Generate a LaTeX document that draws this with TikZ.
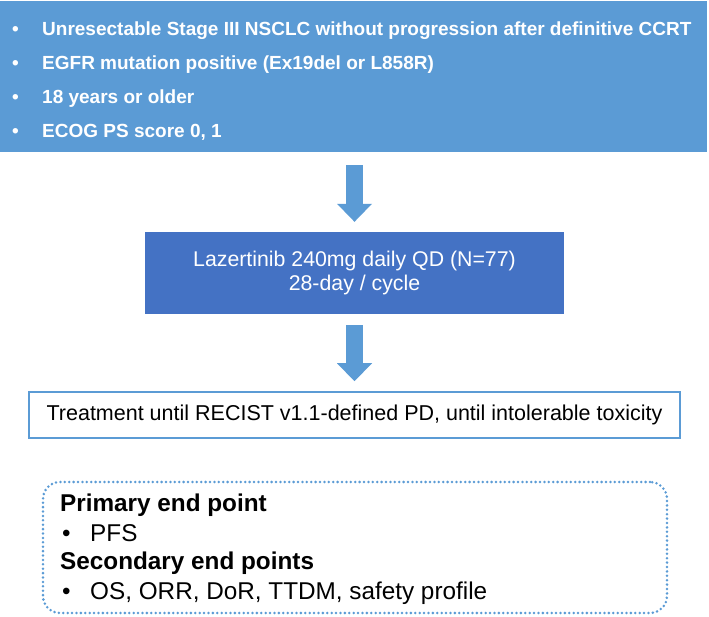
\documentclass[tikz,border=0pt]{standalone}
\usepackage{fontspec}
\setmainfont{Liberation Sans}
\usepackage{tikz}
\usetikzlibrary{calc,positioning,arrows.meta}

\definecolor{critblue}{HTML}{5B9BD5}
\definecolor{drugblue}{HTML}{4472C4}

\tikzset{
  critbox/.style={fill=critblue, minimum width=707pt, minimum height=151pt, inner sep=0pt},
  crititem/.style={anchor=base west, text=white, inner sep=0pt, font=\fontsize{19}{22}\selectfont\bfseries},
  drugbox/.style={fill=drugblue, text=white, minimum width=419pt, minimum height=82pt, align=center, font=\fontsize{21.3}{24}\selectfont},
  treatbox/.style={draw=critblue, line width=1.5pt, fill=white, minimum width=651pt, minimum height=46pt, font=\fontsize{21.5}{24}\selectfont},
  pointbox/.style={draw=critblue, line width=2.8pt, dash pattern=on 0pt off 4.4pt, line cap=round, rounded corners=17pt, minimum width=624pt, minimum height=131pt},
  pointhead/.style={anchor=base west, inner sep=0pt, font=\fontsize{24.3}{28}\selectfont\bfseries},
  pointitem/.style={anchor=base west, inner sep=0pt, font=\fontsize{24.3}{28}\selectfont},
  bigarrow/.style={draw=critblue, line width=17pt, -{Triangle[width=35pt,length=18pt,line width=0pt]}}
}

\begin{document}
\begin{tikzpicture}[x=1pt,y=1pt]
\useasboundingbox (0,0) rectangle (709,616);

%Inclusion criteria
\node[critbox] (crit) at (353.5,539.5) {};
\foreach \txt [count=\i] in {Unresectable Stage III NSCLC without progression after definitive CCRT,
  EGFR mutation positive (Ex19del or L858R),
  18 years or older,
  {ECOG PS score 0, 1}}{
  \node[crititem] (bul\i) at (12,{580.2-34*(\i-1)}) {\textbullet};
  \node[crititem] (crit\i) at (42,{580.2-34*(\i-1)}) {\txt};
}

%Treatment
\node[drugbox] (drug) at (354.5,343) {Lazertinib 240mg daily QD (N=77)\\28-day / cycle};
\node[treatbox] (treat) at (354.5,201) {Treatment until RECIST v1.1-defined PD, until intolerable toxicity};

%Arrows
\draw[bigarrow, shorten <=13pt, shorten >=10pt] (crit.south -| drug.north) -- (drug.north);
\draw[bigarrow, shorten <=11pt, shorten >=10pt] (drug.south) -- (treat.north);

%End points
\node[pointbox] (endp) at (355,68.5) {};
\node[pointhead] (prim) at (60,104.5) {Primary end point};
\node[pointitem] (primbul) at (62,75) {\textbullet};
\node[pointitem] (pfs) at (90,75) {PFS};
\node[pointhead] (sec) at (60,46.5) {Secondary end points};
\node[pointitem] (secbul) at (62,17) {\textbullet};
\node[pointitem] (os) at (90,17) {OS, ORR, DoR, TTDM, safety profile};

\end{tikzpicture}
\end{document}
